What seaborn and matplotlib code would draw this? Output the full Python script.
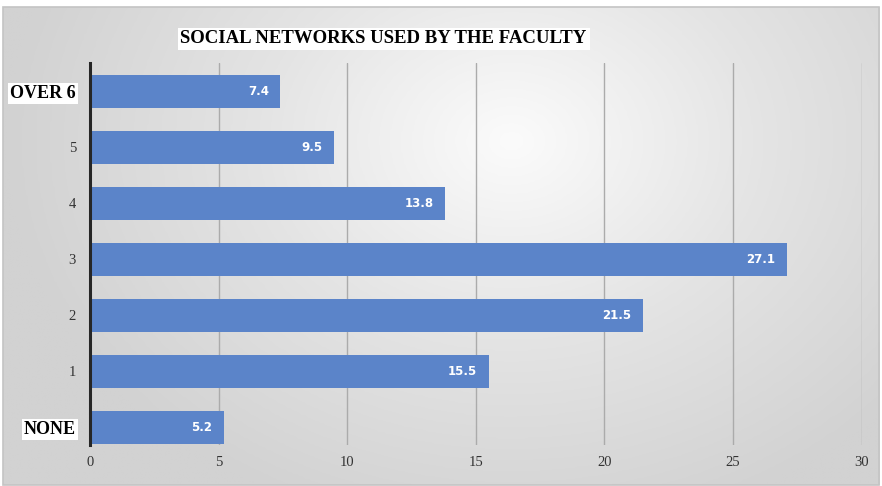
import numpy as np
import pandas as pd
import matplotlib
matplotlib.use('Agg')
import matplotlib.pyplot as plt
from matplotlib.colors import LinearSegmentedColormap
import seaborn as sns

categories = ['OVER 6', '5', '4', '3', '2', '1', 'NONE']
values = [7.4, 9.5, 13.8, 27.1, 21.5, 15.5, 5.2]
title = 'SOCIAL NETWORKS USED BY THE FACULTY'
xticks = [0, 5, 10, 15, 20, 25, 30]

df = pd.DataFrame({'group': categories, 'pct': values})

sns.set_theme(style='white')
plt.rcParams['font.family'] = ['Liberation Serif', 'DejaVu Serif']

fig = plt.figure(figsize=(8.82, 4.86), dpi=100)
fig.patch.set_facecolor('white')

# soft radial gray gradient behind the chart
bg = fig.add_axes([0, 0, 1, 1], zorder=0)
yy, xx = np.mgrid[1:0:200j, 0:1:300j]
r = np.sqrt(((xx - 0.58) * 1.3) ** 2 + ((yy - 0.72) * 0.9) ** 2)
grad = LinearSegmentedColormap.from_list('g', ['#fbfbfb', '#e4e4e4', '#d2d2d2'])
bg.imshow(r, cmap=grad, vmin=0, vmax=0.75, aspect='auto',
          extent=[0.003, 0.997, 0.003, 0.985], interpolation='bilinear')
bg.set_xlim(0, 1)
bg.set_ylim(0, 1)
bg.set_axis_off()
bg.add_patch(plt.Rectangle((0.003, 0.003), 0.994, 0.982, fill=False,
                           edgecolor='#c4c4c4', lw=1.2))

ax = fig.add_axes([0.102, 0.084, 0.875, 0.786], zorder=1)
ax.patch.set_alpha(0)

for x in xticks[1:]:
    ax.axvline(x, color='#ababab', lw=1, zorder=0)

sns.barplot(data=df, x='pct', y='group', order=categories, color='#5b84c9',
            width=0.59, saturation=1, ax=ax, zorder=2, linewidth=0)

for i, v in enumerate(values):
    ax.text(v - 0.45, i, f'{v}', ha='right', va='center', color='white',
            fontsize=8.5, fontweight='bold', family='DejaVu Sans', zorder=3)

ax.set_xlim(0, 30)
ax.set_ylim(6.32, -0.5)
ax.set_xticks(xticks)
ax.set_xlabel('')
ax.set_ylabel('')
ax.tick_params(axis='x', length=0, labelsize=10.5, colors='#333333', pad=8)
ax.tick_params(axis='y', length=0, labelsize=10.5, colors='#333333', pad=10)

for lab in ax.get_yticklabels():
    if lab.get_text() in ('OVER 6', 'NONE'):
        lab.set_fontweight('bold')
        lab.set_fontsize(13)
        lab.set_color('black')
        lab.set_bbox(dict(facecolor='white', edgecolor='none', pad=1.5))

for s in ['top', 'right', 'bottom']:
    ax.spines[s].set_visible(False)
ax.spines['left'].set_color('#262626')
ax.spines['left'].set_linewidth(2.2)
ax.spines['left'].set_zorder(4)

fig.text(0.435, 0.92, title, ha='center', va='center', fontsize=13.5,
         fontweight='bold', color='black', zorder=5,
         bbox=dict(facecolor='white', edgecolor='none', pad=2))

fig.savefig('out.png', dpi=100)
